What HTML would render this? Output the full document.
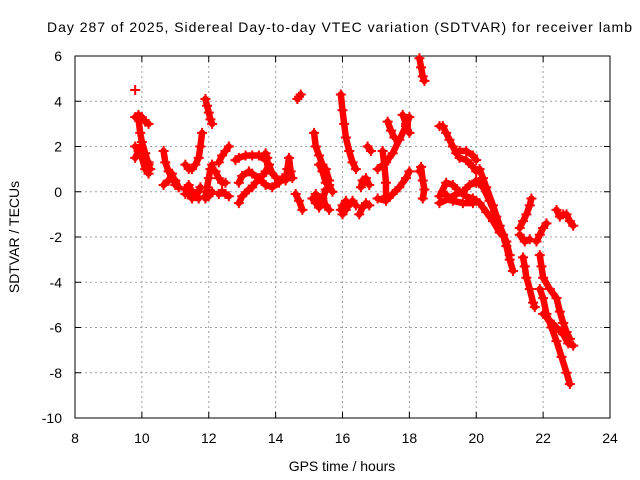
<!DOCTYPE html>
<html><head><meta charset="utf-8"><style>
body{margin:0;background:#fff;}
svg{display:block;font-family:"Liberation Sans",sans-serif;}
</style></head><body>
<svg id="chart" width="640" height="480" viewBox="0 0 640 480">
<rect width="640" height="480" fill="#fff"/>
<text x="47" y="32" font-size="14" textLength="585" lengthAdjust="spacing">Day 287 of 2025, Sidereal Day-to-day VTEC variation (SDTVAR) for receiver lamb</text>
<g id="grid"></g>
<g id="axes"></g>
<g id="marks"></g>
<text x="342" y="471" font-size="14" text-anchor="middle">GPS time / hours</text>
<text transform="translate(19,237) rotate(-90)" font-size="14" text-anchor="middle">SDTVAR / TECUs</text>
</svg>
<script>
const xTicks=[8,10,12,14,16,18,20,22,24];
const yTicks=[6,4,2,0,-2,-4,-6,-8,-10];
const singlePoints=[[9.8,4.5]];
const tracks=[
[[9.8,3.3],[9.9,3.4],[10.0,3.3],[10.1,3.1],[10.2,3.0]],
[[9.9,3.2],[9.95,2.6],[10.0,2.2],[10.1,1.7],[10.2,1.2],[10.25,1.0]],
[[9.8,2.0],[9.9,1.9],[10.0,1.6],[10.1,1.4],[10.2,1.3]],
[[9.8,1.5],[9.9,1.8],[10.0,1.5],[10.1,1.0],[10.2,0.8]],
[[10.65,1.8],[10.7,1.3],[10.8,0.9],[10.9,0.6],[11.0,0.5],[11.1,0.2]],
[[10.65,0.3],[10.8,0.5],[10.9,0.8],[11.0,0.3],[11.1,0.2]],
[[11.3,1.2],[11.4,1.0],[11.5,1.0],[11.6,1.2],[11.7,1.5],[11.75,2.0],[11.8,2.6]],
[[11.3,0.1],[11.4,-0.1],[11.5,-0.3],[11.6,-0.1],[11.7,0.0],[11.75,0.2]],
[[11.3,-0.1],[11.4,0.3],[11.5,0.0],[11.6,-0.2],[11.7,-0.3]],
[[11.9,4.1],[11.95,3.8],[12.0,3.5],[12.05,3.2],[12.1,3.0]],
[[11.9,-0.2],[11.95,0.2],[12.0,0.6],[12.05,1.0],[12.1,1.2]],
[[11.9,-0.3],[12.0,-0.2],[12.1,0.0]],
[[12.3,1.3],[12.4,1.6],[12.5,1.8],[12.6,2.0]],
[[12.2,0.9],[12.3,0.6],[12.4,0.4],[12.5,0.4]],
[[12.3,-0.1],[12.4,0.0],[12.5,-0.1],[12.6,-0.2]],
[[12.8,1.4],[12.9,1.5],[13.1,1.6],[13.3,1.6],[13.5,1.6],[13.7,1.4],[13.8,1.2],[13.9,0.8],[14.1,0.5],[14.2,0.6]],
[[12.9,0.4],[13.0,0.7],[13.2,0.9],[13.3,0.8],[13.5,0.6],[13.7,0.3],[13.9,0.2],[14.1,0.4]],
[[12.9,-0.5],[13.0,-0.2],[13.2,0.1],[13.3,0.2],[13.4,0.4],[13.6,0.7],[13.7,0.9],[13.8,1.2]],
[[13.7,1.7],[13.75,1.5]],
[[14.3,0.5],[14.35,1.0],[14.4,1.5],[14.45,0.9],[14.5,0.6]],
[[14.65,4.1],[14.7,4.2],[14.75,4.3]],
[[14.6,-0.1],[14.7,-0.4],[14.8,-0.8]],
[[15.15,2.6],[15.2,2.0],[15.3,1.6],[15.4,1.2],[15.5,1.0],[15.6,0.5]],
[[15.3,1.2],[15.4,0.9],[15.5,0.4],[15.6,0.3],[15.7,0.0]],
[[15.1,-0.3],[15.2,-0.5],[15.3,-0.7],[15.4,-0.3],[15.5,-0.6],[15.6,-0.8]],
[[15.2,-0.1],[15.4,-0.4],[15.5,0.1]],
[[15.95,4.3],[16.0,3.6],[16.05,3.0],[16.1,2.4],[16.2,1.8],[16.3,1.3],[16.4,1.0]],
[[15.95,-0.8],[16.0,-0.6],[16.1,-0.4],[16.2,-0.6],[16.3,-0.4],[16.4,-0.6]],
[[16.0,-1.0],[16.1,-0.8]],
[[16.55,0.2],[16.6,0.5],[16.7,0.6],[16.8,0.3]],
[[16.5,-1.0],[16.6,-0.7],[16.7,-0.5],[16.8,-0.6]],
[[16.75,2.0],[16.85,1.8]],
[[17.05,1.0],[17.3,1.3],[17.5,1.7],[17.7,2.3],[17.9,2.9],[18.0,3.3]],
[[17.2,1.8],[17.25,1.2],[17.3,0.4],[17.3,-0.2]],
[[17.05,-0.3],[17.3,-0.4],[17.5,-0.1],[17.7,0.2],[17.9,0.6],[18.0,0.9]],
[[17.35,3.1],[17.45,2.7],[17.55,2.4]],
[[17.8,3.4],[17.9,3.0],[18.0,2.6]],
[[18.3,5.9],[18.35,5.5],[18.4,5.1],[18.45,4.9]],
[[18.3,0.9],[18.35,1.1],[18.4,0.5],[18.45,0.1],[18.4,-0.3]],
[[18.9,2.9],[19.0,2.9],[19.1,2.6],[19.2,2.3],[19.3,2.0],[19.4,1.7],[19.5,1.8],[19.7,1.8],[19.9,1.6],[20.0,1.4]],
[[19.5,1.5],[19.7,1.4],[19.9,1.1],[20.0,0.9]],
[[18.9,-0.2],[19.1,0.4],[19.3,0.3],[19.5,0.0],[19.7,-0.2],[19.9,-0.3],[20.0,-0.4]],
[[18.9,-0.5],[19.2,-0.3],[19.4,-0.1],[19.6,0.0],[19.8,0.3],[20.0,0.4]],
[[19.0,0.0],[19.3,-0.4],[19.6,-0.5],[19.9,-0.5]],
[[20.0,0.5],[20.2,0.2],[20.4,-0.4],[20.6,-1.1],[20.8,-1.9],[20.9,-2.4],[21.0,-3.0],[21.1,-3.5]],
[[20.1,1.0],[20.2,0.6],[20.3,0.2],[20.5,-0.6],[20.7,-1.5],[20.9,-2.2],[21.0,-2.8]],
[[20.1,-0.5],[20.3,-0.9],[20.5,-1.3],[20.7,-1.8],[20.8,-1.9]],
[[21.3,-1.6],[21.4,-1.3],[21.5,-1.0],[21.6,-0.6],[21.65,-0.3]],
[[21.3,-1.9],[21.45,-2.2],[21.6,-2.1]],
[[21.8,-2.2],[21.9,-1.9],[22.0,-1.6],[22.1,-1.4]],
[[22.4,-0.8],[22.5,-1.1],[22.6,-1.0],[22.7,-1.0],[22.8,-1.3],[22.9,-1.5]],
[[21.4,-2.9],[21.45,-3.3],[21.5,-3.8],[21.6,-4.3],[21.7,-4.9],[21.75,-5.1]],
[[21.9,-2.8],[21.95,-3.3],[22.0,-3.8],[22.2,-4.3],[22.4,-4.7],[22.5,-5.3],[22.6,-5.8],[22.7,-6.2],[22.8,-6.5]],
[[21.9,-4.3],[22.0,-4.7],[22.1,-5.4],[22.25,-6.0],[22.4,-6.6],[22.55,-7.3],[22.7,-8.0],[22.8,-8.5]],
[[22.0,-5.4],[22.2,-5.7],[22.4,-6.0],[22.6,-6.3],[22.75,-6.7],[22.9,-6.8]]
];
const NS='http://www.w3.org/2000/svg';
const X0=75,X1=610,Y0=418,Y1=56;
function sx(h){return X0+(h-8)/(24-8)*(X1-X0);}
function sy(v){return Y0-(v+10)/(16)*(Y0-Y1);}
function mk(tag,attrs,parent){const e=document.createElementNS(NS,tag);for(const k in attrs)e.setAttribute(k,attrs[k]);parent.appendChild(e);return e;}
const grid=document.getElementById('grid'),axes=document.getElementById('axes'),marks=document.getElementById('marks');
xTicks.forEach(t=>{
  const x=sx(t);
  if(t>8&&t<24){const g=mk('line',{x1:x,y1:Y1,x2:x,y2:Y0,stroke:'#a0a0a0','stroke-dasharray':'2,3','stroke-width':1},grid);
  
  }
  mk('line',{x1:x,y1:Y0,x2:x,y2:Y0-6,stroke:'#000'},axes);
  mk('line',{x1:x,y1:Y1,x2:x,y2:Y1+6,stroke:'#000'},axes);
  const l=mk('text',{x:x,y:443,'font-size':14,'text-anchor':'middle'},axes);l.textContent=t;
  
  
});
yTicks.forEach(t=>{
  const y=sy(t);
  if(t<6&&t>-10){const g=mk('line',{x1:X0,y1:y,x2:X1,y2:y,stroke:'#a0a0a0','stroke-dasharray':'2,3','stroke-width':1},grid);
  
  }
  mk('line',{x1:X0,y1:y,x2:X0+6,y2:y,stroke:'#000'},axes);
  mk('line',{x1:X1,y1:y,x2:X1-6,y2:y,stroke:'#000'},axes);
  const l=mk('text',{x:62,y:y+5,'font-size':14,'text-anchor':'end'},axes);l.textContent=t;
  
  
});
const frame=mk('rect',{x:X0,y:Y1,width:X1-X0,height:Y0-Y1,fill:'none',stroke:'#000','stroke-width':1},axes);


function plus(h,v,g){const x=sx(h),y=sy(v);
  mk('path',{d:`M${x-5},${y}H${x+5}M${x},${y-5}V${y+5}`,stroke:'#f00','stroke-width':2,fill:'none'},g);}
tracks.forEach(tr=>{
  const g=mk('g',{},marks);
  
  
  mk('polyline',{points:tr.map(p=>sx(p[0])+','+sy(p[1])).join(' '),fill:'none',stroke:'#f00','stroke-width':6.5,'stroke-linejoin':'round','stroke-linecap':'round'},g);
  tr.forEach(p=>plus(p[0],p[1],g));
});
singlePoints.forEach(p=>{
  const g=mk('g',{},marks);
  
  
  plus(p[0],p[1],g);
});
</script>
</body></html>
